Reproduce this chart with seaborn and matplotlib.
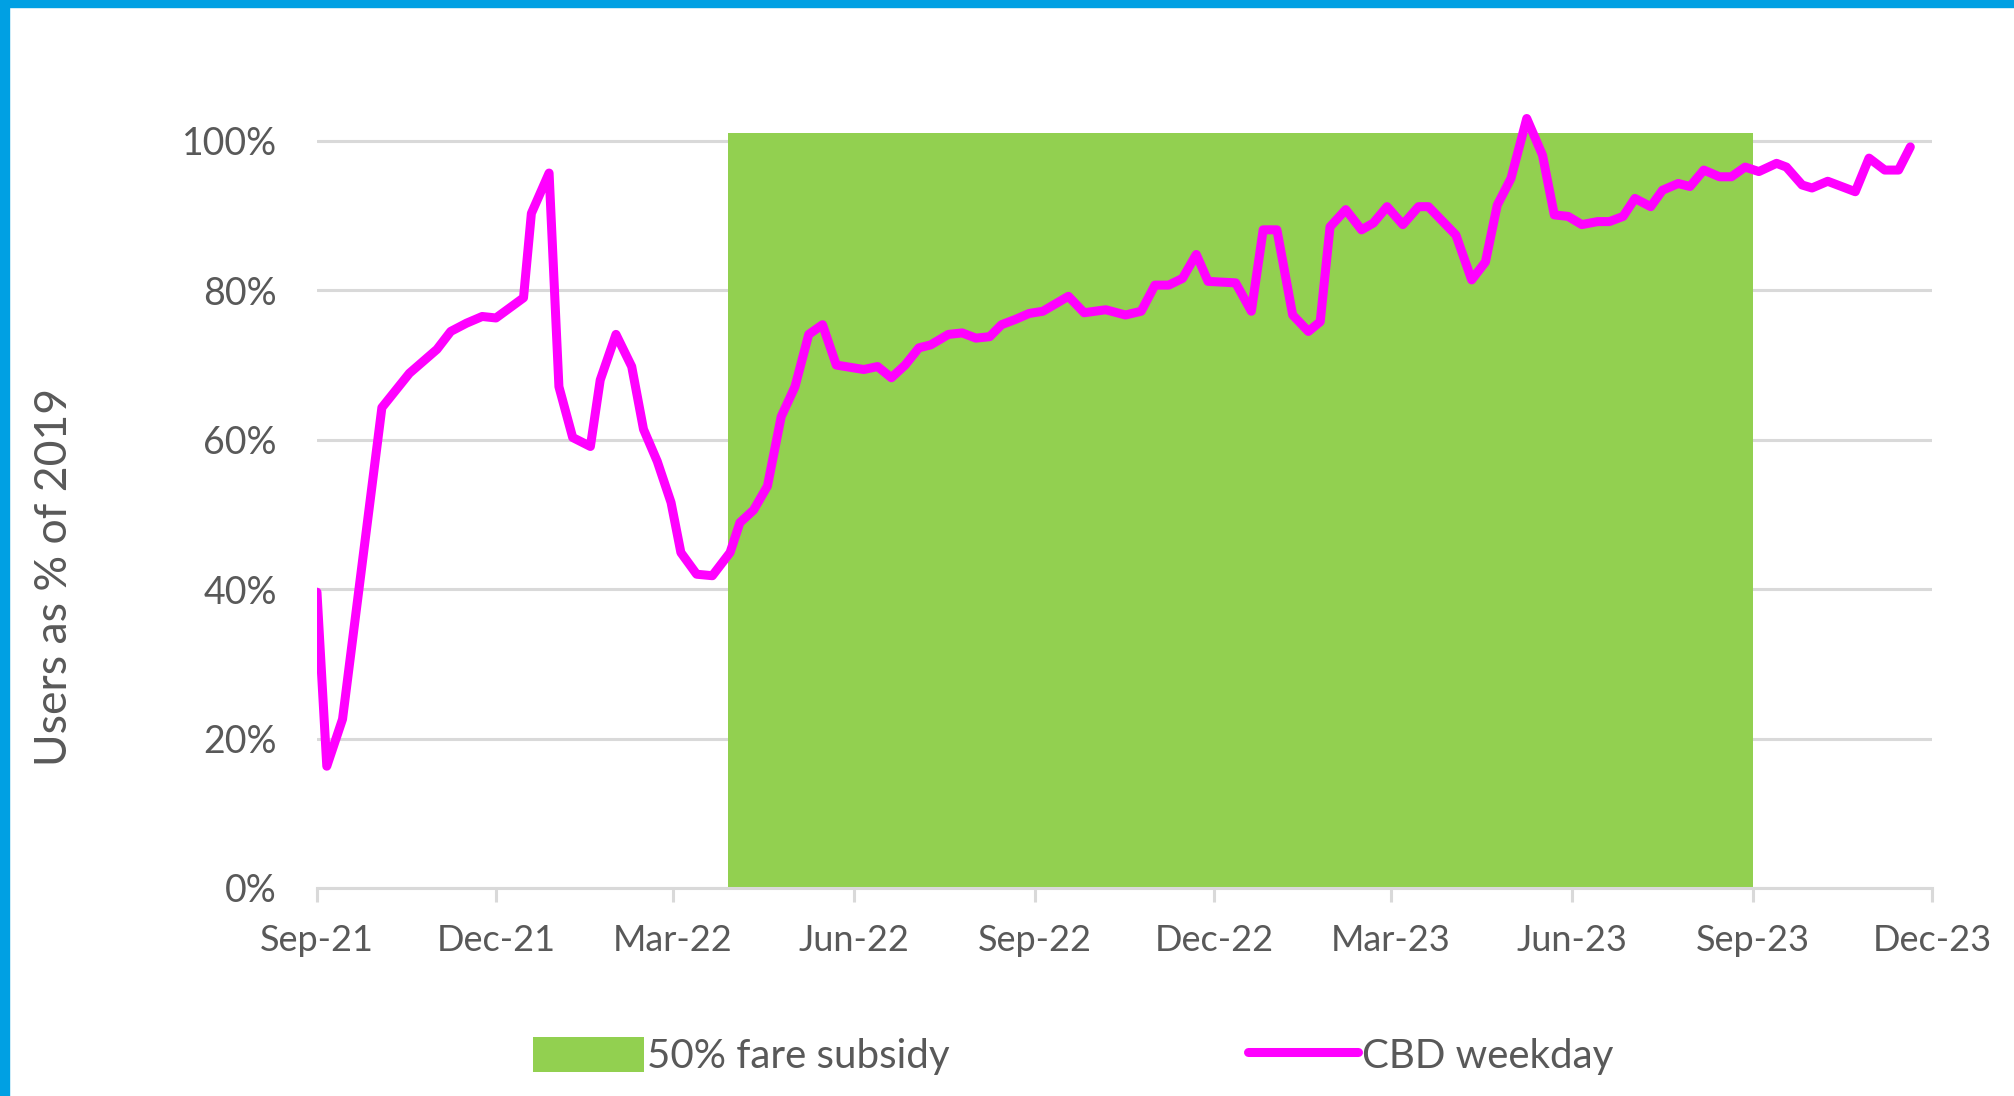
import pandas as pd
import matplotlib.pyplot as plt
from matplotlib.patches import Patch, Rectangle
from matplotlib.lines import Line2D
from matplotlib.ticker import PercentFormatter
import seaborn as sns

sns.set_theme(style="white")
plt.rcParams["font.family"] = ["Lato", "DejaVu Sans"]

# -------- data --------
week = [
    "2021-09-01", "2021-09-06", "2021-09-14", "2021-10-04", "2021-10-18",
    "2021-11-01", "2021-11-08", "2021-11-16", "2021-11-24", "2021-12-01",
    "2021-12-15", "2021-12-19", "2021-12-28", "2022-01-02", "2022-01-09",
    "2022-01-18", "2022-01-23", "2022-01-31", "2022-02-08", "2022-02-14",
    "2022-02-21", "2022-02-28", "2022-03-05", "2022-03-13", "2022-03-21",
    "2022-03-30", "2022-04-04", "2022-04-11", "2022-04-18", "2022-04-25",
    "2022-05-02", "2022-05-09", "2022-05-16", "2022-05-23", "2022-06-06",
    "2022-06-13", "2022-06-20", "2022-06-27", "2022-07-04", "2022-07-10",
    "2022-07-19", "2022-07-26", "2022-08-02", "2022-08-09", "2022-08-15",
    "2022-08-22", "2022-08-29", "2022-09-05", "2022-09-18", "2022-09-26",
    "2022-10-07", "2022-10-17", "2022-10-25", "2022-11-01", "2022-11-08",
    "2022-11-15", "2022-11-22", "2022-11-28", "2022-12-12", "2022-12-20",
    "2022-12-26", "2023-01-02", "2023-01-10", "2023-01-18", "2023-01-24",
    "2023-01-29", "2023-02-06", "2023-02-14", "2023-02-20", "2023-02-27",
    "2023-03-07", "2023-03-15", "2023-03-20", "2023-04-03", "2023-04-11",
    "2023-04-18", "2023-04-24", "2023-05-01", "2023-05-09", "2023-05-17",
    "2023-05-23", "2023-05-30", "2023-06-06", "2023-06-14", "2023-06-20",
    "2023-06-27", "2023-07-03", "2023-07-11", "2023-07-17", "2023-07-25",
    "2023-07-31", "2023-08-07", "2023-08-15", "2023-08-21", "2023-08-28",
    "2023-09-04", "2023-09-13", "2023-09-18", "2023-09-26", "2023-10-01",
    "2023-10-09", "2023-10-23", "2023-10-30", "2023-11-07", "2023-11-14",
    "2023-11-20",
]
cbd_weekday = [
    39.6, 16.3, 22.6, 64.3, 68.9,
    72.1, 74.5, 75.6, 76.5, 76.3,
    79.0, 90.3, 95.7, 67.1, 60.3,
    59.1, 68.0, 74.1, 69.8, 61.4,
    57.1, 51.6, 44.9, 42.0, 41.8,
    44.9, 48.9, 50.6, 53.8, 63.1,
    67.1, 74.1, 75.4, 70.0, 69.4,
    69.8, 68.3, 70.0, 72.3, 72.7,
    74.1, 74.3, 73.6, 73.8, 75.4,
    76.1, 76.9, 77.2, 79.2, 77.0,
    77.4, 76.7, 77.2, 80.7, 80.7,
    81.6, 84.8, 81.2, 81.0, 77.2,
    88.1, 88.1, 76.7, 74.5, 75.8,
    88.5, 90.8, 88.1, 89.0, 91.2,
    88.8, 91.2, 91.2, 87.4, 81.4,
    83.8, 91.4, 95.0, 103.0, 98.1,
    90.1, 89.9, 88.8, 89.2, 89.2,
    89.9, 92.3, 91.2, 93.4, 94.3,
    93.9, 96.1, 95.2, 95.2, 96.5,
    95.9, 97.0, 96.5, 94.1, 93.7,
    94.6, 93.2, 97.7, 96.1, 96.1,
    99.2,
]
subsidy_period = ["2022-03-29", "2023-09-01"]
subsidy_level = [1.01, 1.01]
tick_dates = pd.date_range("2021-09-01", "2023-12-01", freq="3MS")

df = pd.DataFrame({"week": pd.to_datetime(week), "cbd": [v / 100 for v in cbd_weekday]})
sub = pd.DataFrame({"date": pd.to_datetime(subsidy_period), "level": subsidy_level})

GREEN = "#92D050"
MAGENTA = "#FF00FF"
GRID = "#D9D9D9"
TEXT = "#595959"

fig = plt.figure(figsize=(20.15, 10.96), dpi=100)
ax = fig.add_axes([0.1573, 0.1898, 0.8015, 0.7157])

ax.fill_between(sub["date"], 0, sub["level"], color=GREEN, lw=0, zorder=2)
sns.lineplot(data=df, x="week", y="cbd", color=MAGENTA, lw=6.5, ax=ax,
             legend=False, zorder=3)
ax.lines[-1].set_solid_joinstyle("round")
ax.lines[-1].set_solid_capstyle("round")

ax.set_xlim(tick_dates[0], tick_dates[-1])
ax.set_ylim(0, 1.05)
ax.set_yticks([0, 0.2, 0.4, 0.6, 0.8, 1.0])
ax.yaxis.set_major_formatter(PercentFormatter(1.0, decimals=0))
ax.set_xticks(tick_dates)
ax.set_xticklabels([d.strftime("%b-%y") for d in tick_dates])

ax.yaxis.grid(True, color=GRID, lw=2.2, zorder=0)
ax.xaxis.grid(False)
ax.set_axisbelow(True)
for s in ["left", "top", "right"]:
    ax.spines[s].set_visible(False)
ax.spines["bottom"].set_color(GRID)
ax.spines["bottom"].set_linewidth(2.2)
ax.spines["bottom"].set_zorder(4)

ax.tick_params(axis="x", bottom=True, length=10, width=2.2, color=GRID,
               direction="out", pad=16, labelsize=26, labelcolor=TEXT)
ax.tick_params(axis="y", left=False, length=0, pad=29, labelsize=27,
               labelcolor=TEXT)
ax.set_xlabel("")
ax.set_ylabel("")

fig.text(0.027, 0.4735, "Users as % of 2019", rotation=90, ha="center",
         va="center", fontsize=32, color=TEXT)

handles = [
    Patch(facecolor=GREEN, edgecolor="none", label="50% fare subsidy"),
    Line2D([], [], color=MAGENTA, lw=6.5, solid_capstyle="round", label="CBD weekday"),
]
fig.legend(handles=handles, loc="center", bbox_to_anchor=(0.5325, 0.0365),
           ncol=2, frameon=False, fontsize=29, handlelength=2.75,
           handleheight=0.96, handletextpad=0.08, columnspacing=7.4,
           labelcolor=TEXT)

# blue frame on the top and left edges
fig.patches.append(Rectangle((0, 0.9936), 1, 0.0064, transform=fig.transFigure,
                             color="#00A0E3", zorder=10))
fig.patches.append(Rectangle((0, 0), 0.0045, 1, transform=fig.transFigure,
                             color="#00A0E3", zorder=10))

fig.savefig("out.png", dpi=100)
